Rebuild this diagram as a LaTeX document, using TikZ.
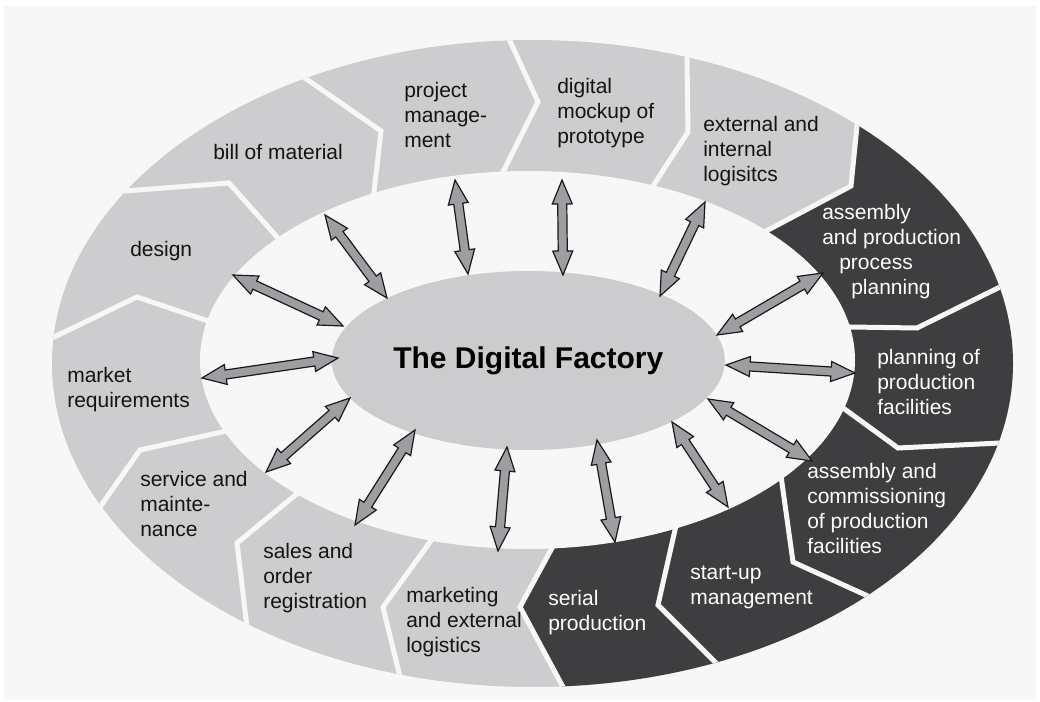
\documentclass[tikz,border=0pt]{standalone}
\usepackage{fontspec}
\setmainfont{Liberation Sans}
\usetikzlibrary{calc,shapes.geometric}
\definecolor{bg}{RGB}{247,247,247}
\definecolor{lightseg}{RGB}{205,205,207}
\definecolor{darkseg}{RGB}{62,62,64}
\definecolor{arrfill}{RGB}{158,158,162}
\definecolor{hubfill}{RGB}{204,204,206}
\newcommand\DFarrow[2]{%
  \draw[dfarr] (#1)
    -- ($(#1)!18pt!(#2)!7.5pt!90:(#2)$)
    -- ($(#1)!18pt!(#2)!3.4pt!90:(#2)$)
    -- ($(#2)!18pt!(#1)!3.4pt!-90:(#1)$)
    -- ($(#2)!18pt!(#1)!7.5pt!-90:(#1)$)
    -- (#2)
    -- ($(#2)!18pt!(#1)!7.5pt!90:(#1)$)
    -- ($(#2)!18pt!(#1)!3.4pt!90:(#1)$)
    -- ($(#1)!18pt!(#2)!3.4pt!-90:(#2)$)
    -- ($(#1)!18pt!(#2)!7.5pt!-90:(#2)$)
    -- cycle;}
\newcommand\seglines[1]{\begin{tabular}[t]{@{}l@{}}#1\end{tabular}}
\begin{document}
\begin{tikzpicture}[x=0.75pt,y=-0.75pt,
  gap/.style={draw=bg,line width=3.75pt,line join=miter,line cap=butt},
  dfarr/.style={fill=arrfill,draw=black!90,line width=0.9pt,line join=miter},
  lbl/.style={anchor=base west,inner sep=0pt,font=\fontsize{15.75}{18.75}\selectfont,text=black!92},
  lblw/.style={lbl,text=white}]
\useasboundingbox (0,0) rectangle (1040,702);
\fill[white] (0,0) rectangle (1040,702);
\fill[bg] (4,6) rectangle (1036,700);
% boundary points: outer, kink, inner
\coordinate (O1) at (305,78);   \coordinate (K1) at (381,131);  \coordinate (I1) at (374,192);
\coordinate (O2) at (510,41);   \coordinate (K2) at (538,102);  \coordinate (I2) at (503,172);
\coordinate (O3) at (687,57);   \coordinate (K3) at (688,132);  \coordinate (I3) at (655,183);
\coordinate (O4) at (857,126);  \coordinate (K4) at (851,186);  \coordinate (I4) at (770,229);
\coordinate (O5) at (1000,287); \coordinate (K5) at (917,328);  \coordinate (I5) at (850,327);
\coordinate (O6) at (1000,443); \coordinate (K6) at (898,448);  \coordinate (I6) at (850,413);
\coordinate (O7) at (870,597);  \coordinate (K7) at (793,562);  \coordinate (I7) at (782,483);
\coordinate (O8) at (715,662);  \coordinate (K8) at (658,605);  \coordinate (I8) at (675,530);
\coordinate (O9) at (563,687);  \coordinate (K9) at (520,607);  \coordinate (I9) at (552,548);
\coordinate (O10) at (400,677); \coordinate (K10) at (383,607); \coordinate (I10) at (430,542);
\coordinate (O11) at (247,627); \coordinate (K11) at (237,543); \coordinate (I11) at (293,497);
\coordinate (O12) at (100,507); \coordinate (K12) at (140,450); \coordinate (I12) at (222,432);
\coordinate (O13) at (52,338);  \coordinate (K13) at (137,297); \coordinate (I13) at (205,320);
\coordinate (O14) at (125,191); \coordinate (K14) at (229,183); \coordinate (I14) at (277,237);
\coordinate (oc) at (532.5,363.5);
\coordinate (ic) at (527.5,360);
% ring
\fill[lightseg] (oc) ellipse [x radius=360.375pt, y radius=242.625pt];
\begin{scope}
  \clip (oc) ellipse [x radius=360.375pt, y radius=242.625pt];
  \fill[darkseg] (ic) -- (I4) -- (K4) -- (O4) -- (1000,-60) -- (1200,-60) -- (1200,800)
     -- (590,800) -- (O9) -- (K9) -- (I9) -- cycle;
  \foreach \k in {1,...,14}
    \draw[gap] ($(K\k)!1.3!(O\k)$) -- (K\k) -- ($(K\k)!1.5!(I\k)$);
\end{scope}
\fill[bg] (ic) ellipse [x radius=245.625pt, y radius=141.75pt];
% hub
\node[ellipse,fill=hubfill,minimum width=294.75pt,minimum height=134.25pt,inner sep=0pt,
      font=\bfseries\fontsize{22.5}{27}\selectfont] (hub) at (528.3,360.5) {The Digital Factory};
% arrow end points
\coordinate (a1i) at (343,326);  \coordinate (a1o) at (233,275);
\coordinate (a2i) at (387,298);  \coordinate (a2o) at (325,215);
\coordinate (a3i) at (468,274);  \coordinate (a3o) at (455,180);
\coordinate (a4i) at (563,275);  \coordinate (a4o) at (562,180);
\coordinate (a5i) at (660,296);  \coordinate (a5o) at (705,202);
\coordinate (a6i) at (717,335);  \coordinate (a6o) at (823,273);
\coordinate (a7i) at (726,365);  \coordinate (a7o) at (855,373);
\coordinate (a8i) at (708,399);  \coordinate (a8o) at (812,461);
\coordinate (a9i) at (672,422);  \coordinate (a9o) at (728,507);
\coordinate (a10i) at (597,440); \coordinate (a10o) at (615,542);
\coordinate (a11i) at (507,447); \coordinate (a11o) at (498,551);
\coordinate (a12i) at (415,430); \coordinate (a12o) at (355,525);
\coordinate (a13i) at (350,398); \coordinate (a13o) at (266,472);
\coordinate (a14i) at (338,358); \coordinate (a14o) at (202,378);
\foreach \k in {1,...,14} {\DFarrow{a\k i}{a\k o}}
% labels
\node[lbl] (tbill) at (213,160) {bill of material};
\node[lbl] (tproj) at (404,98) {\seglines{project\\manage-\\ment}};
\node[lbl] (tdmu) at (557,94) {\seglines{digital\\mockup of\\prototype}};
\node[lbl] (text) at (703,132) {\seglines{external and\\internal\\logisitcs}};
\node[lblw] (tasm) at (822,220) {\seglines{assembly\\and production\\\hspace*{12.75pt}process\\\hspace*{21.75pt}planning}};
\node[lblw] (tplan) at (877,365) {\seglines{planning of\\production\\facilities}};
\node[lblw] (tcomm) at (807,479) {\seglines{assembly and\\commissioning\\of production\\facilities}};
\node[lblw] (tstart) at (690,579) {\seglines{start-up\\management}};
\node[lblw] (tserial) at (548,605) {\seglines{serial\\production}};
\node[lbl] (tmkt) at (406,602) {\seglines{marketing\\and external\\logistics}};
\node[lbl] (tsales) at (263,558) {\seglines{sales and\\order\\registration}};
\node[lbl] (tserv) at (140,487) {\seglines{service and\\mainte-\\nance}};
\node[lbl] (treq) at (67,383) {\seglines{market\\requirements}};
\node[lbl] (tdes) at (130,257) {design};
\end{tikzpicture}
\end{document}
